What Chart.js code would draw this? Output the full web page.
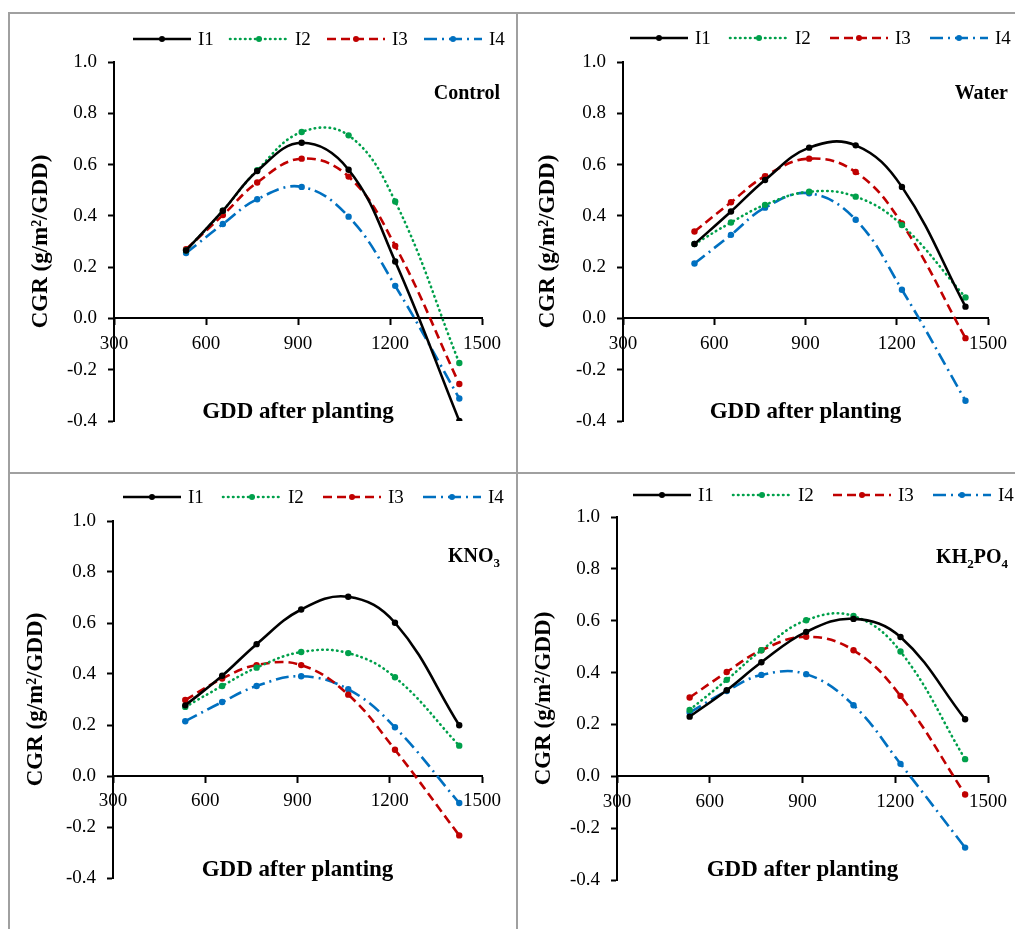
<!DOCTYPE html>
<html>
<head>
<meta charset="utf-8">
<title>CGR vs GDD</title>
<script src="https://cdn.jsdelivr.net/npm/chart.js@4.4.1/dist/chart.umd.min.js"></script>
<style>
  html, body { margin: 0; padding: 0; background: #fff; }
  body { width: 1015px; height: 929px; position: relative; overflow: hidden; }
  .rule { position: absolute; background: #a0a0a0; }
  .panel { position: absolute; }
</style>
</head>
<body>
<div class="rule" style="left:8px;top:12px;width:1007px;height:2px"></div>
<div class="rule" style="left:8px;top:12px;width:2px;height:917px"></div>
<div class="rule" style="left:516px;top:12px;width:2px;height:917px"></div>
<div class="rule" style="left:8px;top:472px;width:1007px;height:2px"></div>

<div class="panel" style="left:11px;top:15px;width:505px;height:456px"><canvas id="c1"></canvas></div>
<div class="panel" style="left:519px;top:15px;width:496px;height:456px"><canvas id="c2"></canvas></div>
<div class="panel" style="left:11px;top:474px;width:505px;height:455px"><canvas id="c3"></canvas></div>
<div class="panel" style="left:519px;top:474px;width:496px;height:455px"><canvas id="c4"></canvas></div>

<script>
// ---- data ----
const gdd = [535, 655, 767, 912, 1065, 1217, 1426];
const seriesNames = ["I1", "I2", "I3", "I4"];
const xTicks = [300, 600, 900, 1200, 1500];
const yTicks = [-0.4, -0.2, 0, 0.2, 0.4, 0.6, 0.8, 1.0];

const control_I1 = [0.265, 0.42, 0.575, 0.685, 0.58, 0.222, -0.40];
const control_I2 = [0.265, 0.42, 0.578, 0.727, 0.714, 0.456, -0.174];
const control_I3 = [0.27, 0.403, 0.53, 0.623, 0.553, 0.283, -0.256];
const control_I4 = [0.255, 0.368, 0.465, 0.513, 0.397, 0.127, -0.312];

const water_I1 = [0.29, 0.417, 0.54, 0.666, 0.675, 0.513, 0.046];
const water_I2 = [0.29, 0.374, 0.443, 0.494, 0.475, 0.364, 0.082];
const water_I3 = [0.339, 0.453, 0.555, 0.623, 0.571, 0.37, -0.077];
const water_I4 = [0.214, 0.326, 0.432, 0.488, 0.385, 0.112, -0.321];

const kno3_I1 = [0.277, 0.393, 0.517, 0.653, 0.703, 0.601, 0.199];
const kno3_I2 = [0.271, 0.353, 0.425, 0.486, 0.482, 0.387, 0.119];
const kno3_I3 = [0.298, 0.382, 0.435, 0.435, 0.319, 0.103, -0.233];
const kno3_I4 = [0.215, 0.29, 0.353, 0.391, 0.34, 0.191, -0.106];

const kh2po4_I1 = [0.23, 0.332, 0.44, 0.557, 0.607, 0.537, 0.22];
const kh2po4_I2 = [0.256, 0.372, 0.486, 0.602, 0.618, 0.481, 0.066];
const kh2po4_I3 = [0.304, 0.402, 0.486, 0.538, 0.486, 0.31, -0.07];
const kh2po4_I4 = [0.246, 0.329, 0.391, 0.394, 0.274, 0.048, -0.275];

// ---- styles ----
const SERIF = '"Liberation Serif", "Times New Roman", serif';
const colors = ["#000000", "#00A04B", "#C00000", "#0070C0"];
const dashes = [[], [0.5, 4.5], [9, 5], [13, 5, 2, 5]];
const caps = ["butt", "round", "butt", "butt"];

// legend drawn like the Excel one: line sample, marker in the middle, label
const lineLegend = {
  id: "lineLegend",
  afterDraw(chart, args, opts) {
    const ctx = chart.ctx;
    ctx.save();
    chart.data.datasets.forEach((ds, i) => {
      const x0 = opts.x + i * opts.step;
      const y = opts.y;
      ctx.strokeStyle = ds.borderColor;
      ctx.lineWidth = ds.borderWidth;
      ctx.lineCap = ds.borderCapStyle;
      ctx.setLineDash(ds.borderDash);
      ctx.beginPath();
      ctx.moveTo(x0, y);
      ctx.lineTo(x0 + opts.len, y);
      ctx.stroke();
      ctx.setLineDash([]);
      ctx.fillStyle = ds.pointBackgroundColor;
      ctx.beginPath();
      ctx.arc(x0 + opts.len / 2, y, 3, 0, Math.PI * 2);
      ctx.fill();
      ctx.fillStyle = "#000";
      ctx.font = "19px " + SERIF;
      ctx.textBaseline = "middle";
      ctx.textAlign = "left";
      ctx.fillText(ds.label, x0 + opts.len + 7, y + 1);
    });
    ctx.restore();
  }
};

// treatment name in the corner, digits as subscripts
const panelTag = {
  id: "panelTag",
  afterDraw(chart, args, opts) {
    const ctx = chart.ctx;
    const big = "bold 20px " + SERIF;
    const small = "bold 13px " + SERIF;
    const parts = opts.text.split(/(\d)/).filter(p => p.length);
    ctx.save();
    let w = 0;
    parts.forEach(p => {
      ctx.font = /\d/.test(p) ? small : big;
      w += ctx.measureText(p).width;
    });
    let x = opts.right - w;
    ctx.fillStyle = "#000";
    ctx.textBaseline = "alphabetic";
    ctx.textAlign = "left";
    parts.forEach(p => {
      const sub = /\d/.test(p);
      ctx.font = sub ? small : big;
      ctx.fillText(p, x, opts.base + (sub ? 5 : 0));
      x += ctx.measureText(p).width;
    });
    ctx.restore();
  }
};

function makeChart(id, name, series, box) {
  const tickFont = { family: SERIF, size: 19 };
  const titleFont = { family: SERIF, size: 23, weight: "bold" };
  const gridOpts = { drawOnChartArea: false, drawTicks: true, tickLength: 6, tickColor: "#000", tickWidth: 2 };
  const borderOpts = { display: true, color: "#000", width: 2 };

  return new Chart(document.getElementById(id), {
    type: "line",
    data: {
      datasets: series.map((vals, k) => ({
        label: seriesNames[k],
        data: gdd.map((x, i) => ({ x: x, y: vals[i] })),
        borderColor: colors[k],
        pointBackgroundColor: colors[k],
        pointBorderWidth: 0,
        pointRadius: 3.2,
        borderWidth: 2.6,
        borderDash: dashes[k],
        borderCapStyle: caps[k],
        tension: 0.4,
        fill: false
      }))
    },
    options: {
      responsive: true,
      maintainAspectRatio: false,
      animation: false,
      layout: { padding: { left: box.padL, right: box.padR, top: box.padT, bottom: box.padB } },
      plugins: {
        legend: { display: false },
        tooltip: { enabled: false },
        lineLegend: { x: box.legX, y: box.legY, step: box.legStep, len: 58 },
        panelTag: { text: name, right: 489, base: box.tagBase }
      },
      scales: {
        x: {
          type: "linear",
          position: { y: 0 },
          min: 300,
          max: 1500,
          afterBuildTicks: s => { s.ticks = xTicks.map(v => ({ value: v })); },
          grid: gridOpts,
          border: borderOpts,
          ticks: { color: "#000", font: tickFont, padding: 8, maxRotation: 0, autoSkip: false, callback: v => String(v) },
          title: { display: true, text: "GDD after planting", color: "#000", font: titleFont, padding: { top: 35, bottom: 0 } }
        },
        y: {
          type: "linear",
          min: -0.4,
          max: 1.0,
          afterBuildTicks: s => { s.ticks = yTicks.map(v => ({ value: v })); },
          afterFit: s => { s.width = box.axW; },
          grid: gridOpts,
          border: borderOpts,
          ticks: { color: "#000", font: tickFont, padding: 11, autoSkip: false, callback: v => v.toFixed(1) },
          title: { display: true, text: "CGR (g/m²/GDD)", color: "#000", font: titleFont, padding: { top: 6, bottom: 0 } }
        }
      }
    },
    plugins: [lineLegend, panelTag]
  });
}

makeChart("c1", "Control", [control_I1, control_I2, control_I3, control_I4],
  { padL: 10, axW: 93, padR: 34, padT: 47, padB: 50, legX: 122, legY: 24, legStep: 97, tagBase: 84 });
makeChart("c2", "Water", [water_I1, water_I2, water_I3, water_I4],
  { padL: 9, axW: 95, padR: 25, padT: 47, padB: 50, legX: 111, legY: 23, legStep: 100, tagBase: 84 });
makeChart("c3", "KNO3", [kno3_I1, kno3_I2, kno3_I3, kno3_I4],
  { padL: 5, axW: 97, padR: 34, padT: 47, padB: 51, legX: 112, legY: 23, legStep: 100, tagBase: 88 });
makeChart("c4", "KH2PO4", [kh2po4_I1, kh2po4_I2, kh2po4_I3, kh2po4_I4],
  { padL: 5, axW: 93, padR: 25, padT: 43, padB: 49, legX: 114, legY: 21, legStep: 100, tagBase: 89 });
</script>
</body>
</html>
